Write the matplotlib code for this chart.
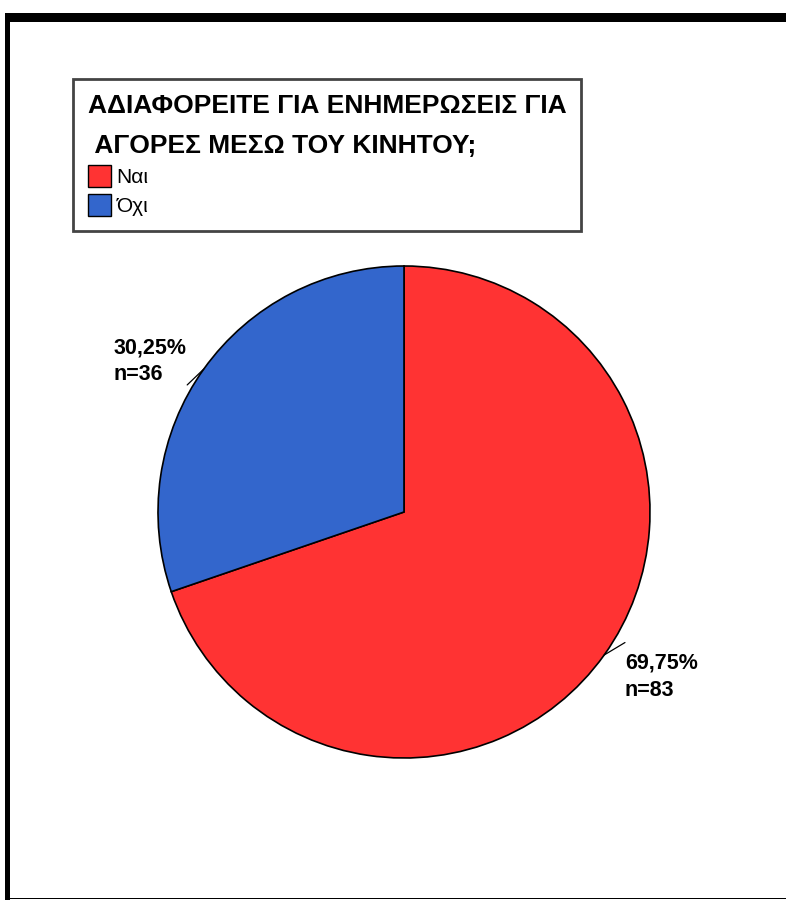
import numpy as np
import matplotlib.pyplot as plt
from matplotlib.patches import Rectangle

plt.rcParams['font.family'] = ['Liberation Sans', 'DejaVu Sans']

# survey answers
labels = ['Ναι', 'Όχι']
counts = [83, 36]
percents = [69.75, 30.25]
colors = ['#ff3333', '#3366cc']
title = 'ΑΔΙΑΦΟΡΕΙΤΕ ΓΙΑ ΕΝΗΜΕΡΩΣΕΙΣ ΓΙΑ\n ΑΓΟΡΕΣ ΜΕΣΩ ΤΟΥ ΚΙΝΗΤΟΥ;'

W, H = 786, 900
fig = plt.figure(figsize=(W / 100, H / 100), dpi=100)

def px_rect(x0, y0, x1, y1, **kw):
    # rectangle given in pixel coords measured from the top-left corner
    fig.patches.append(Rectangle((x0 / W, 1 - y1 / H), (x1 - x0) / W, (y1 - y0) / H,
                                 transform=fig.transFigure, figure=fig, **kw))

# page frame
px_rect(5, 13, W, 22, facecolor='black', edgecolor='none')
px_rect(5, 13, 10, H, facecolor='black', edgecolor='none')
px_rect(10, 898, W, 899, facecolor='black', edgecolor='none')

cx, cy, r = 404, 512, 246
ax = fig.add_axes([(cx - r) / W, (H - cy - r) / H, 2 * r / W, 2 * r / H])
wedges, _ = ax.pie(percents, colors=colors, startangle=90, counterclock=False,
                   radius=1, wedgeprops=dict(edgecolor='black', linewidth=1.2))
ax.set_xlim(-1, 1)
ax.set_ylim(-1, 1)
ax.set_aspect('equal')
ax.axis('off')

# slice labels: text offset and leader-line end, in points from the slice edge
text_off = [(15, 2), (-65, 23)]
lead_off = [(15, 9), (-12, -11.5)]
for w, p, n, to, lo in zip(wedges, percents, counts, text_off, lead_off):
    ang = np.deg2rad((w.theta1 + w.theta2) / 2)
    x, y = np.cos(ang), np.sin(ang)
    txt = f'{p:.2f}%'.replace('.', ',') + f'\nn={n}'
    ax.annotate(txt, xy=(x, y), xytext=to, textcoords='offset points',
                ha='left', va='top', fontsize=15.5, fontweight='bold',
                linespacing=1.4)
    ax.annotate('', xy=(x, y), xytext=lo, textcoords='offset points',
                arrowprops=dict(arrowstyle='-', color='black', lw=0.9,
                                shrinkA=0, shrinkB=0))

leg = ax.legend(wedges, labels, title=title, loc='upper left',
                bbox_to_anchor=(73 / W, 1 - 79 / H), bbox_transform=fig.transFigure,
                fontsize=15, title_fontproperties={'weight': 'bold', 'size': 19},
                alignment='left', fancybox=False, framealpha=1,
                edgecolor='#444444', handlelength=1.1, handleheight=1.25,
                handletextpad=0.3, labelspacing=0.35, borderpad=0.7,
                borderaxespad=0)
leg.get_frame().set_linewidth(2)
leg.get_title().set_linespacing(1.85)
for h in leg.legend_handles:
    h.set_edgecolor('black')
    h.set_linewidth(1)

fig.savefig('out.png', dpi=100)
